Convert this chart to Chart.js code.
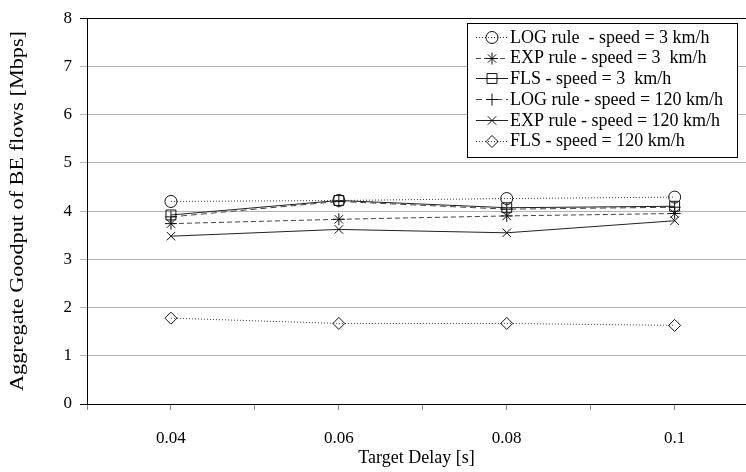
<!DOCTYPE html>
<html>
<head>
<meta charset="utf-8">
<script src="https://cdn.jsdelivr.net/npm/chart.js@4/dist/chart.umd.min.js"></script>
<style>
html,body{margin:0;padding:0;background:#fff;overflow:hidden;}
#wrap{position:relative;width:746px;height:472px;overflow:hidden;}
#c{display:block;width:746px;height:472px;}
</style>
</head>
<body>
<div id="wrap"><canvas id="c" width="746" height="472"></canvas></div>
<script>
const targetDelay = [0.04, 0.06, 0.08, 0.1];
const logRule3 = [4.2, 4.22, 4.26, 4.29];
const expRule3 = [3.74, 3.83, 3.9, 3.95];
const fls3 = [3.92, 4.22, 4.07, 4.1];
const logRule120 = [3.88, 4.2, 4.04, 4.08];
const expRule120 = [3.48, 3.62, 3.55, 3.8];
const fls120 = [1.78, 1.67, 1.67, 1.63];
const seriesLabels = [
  'LOG rule  - speed = 3 km/h',
  'EXP rule - speed = 3  km/h',
  'FLS - speed = 3  km/h',
  'LOG rule - speed = 120 km/h',
  'EXP rule - speed = 120 km/h',
  'FLS - speed = 120 km/h'
];
const xTickLabels = ['0.04', '0.06', '0.08', '0.1'];
const yTickLabels = ['0','1','2','3','4','5','6','7','8'];
const xTitle = 'Target Delay [s]';
const yTitle = 'Aggregate Goodput of BE flows [Mbps]';

const FONT = "'Liberation Serif', 'Times New Roman', serif";
const pts = arr => targetDelay.map((x, i) => ({x: x, y: arr[i]}));

const styles = [
  {dash: [1, 2], color: '#333', point: 'circle', r: 6},
  {dash: [5, 3], color: '#444', point: 'star', r: 6},
  {dash: [], color: '#222', point: 'rect', r: 7},
  {dash: [6, 4], color: '#444', point: 'cross', r: 6},
  {dash: [], color: '#222', point: 'crossRot', r: 6},
  {dash: [1, 2], color: '#333', point: 'rectRot', r: 6}
];
const values = [logRule3, expRule3, fls3, logRule120, expRule120, fls120];

const datasets = values.map((v, i) => ({
  label: seriesLabels[i],
  data: pts(v),
  borderColor: styles[i].color,
  borderWidth: 1,
  borderDash: styles[i].dash,
  pointStyle: styles[i].point,
  pointRadius: styles[i].r,
  pointBorderColor: '#111',
  pointBorderWidth: 1,
  pointBackgroundColor: 'rgba(0,0,0,0)',
  fill: false,
  tension: 0
}));

function drawMarker(ctx, style, r, x, y) {
  const opts = {pointStyle: style, radius: r, rotation: 0, borderWidth: 1};
  if (window.Chart && Chart.helpers && Chart.helpers.drawPoint) {
    ctx.fillStyle = 'rgba(0,0,0,0)';
    Chart.helpers.drawPoint(ctx, opts, x, y);
  }
}

const legendPlugin = {
  id: 'boxLegend',
  afterDraw(chart) {
    const ctx = chart.ctx;
    const x0 = 467, y0 = 23, w = 270, h = 134;
    ctx.save();
    ctx.fillStyle = '#fff';
    ctx.fillRect(x0, y0, w, h);
    ctx.strokeStyle = '#000';
    ctx.lineWidth = 1;
    ctx.setLineDash([]);
    ctx.strokeRect(x0 + 0.5, y0 + 0.5, w, h);
    chart.data.datasets.forEach((ds, i) => {
      const cy = 37 + i * 20.7;
      ctx.save();
      ctx.strokeStyle = ds.borderColor;
      ctx.lineWidth = 1;
      ctx.setLineDash(ds.borderDash || []);
      ctx.beginPath();
      ctx.moveTo(476, Math.round(cy) + 0.5);
      ctx.lineTo(508, Math.round(cy) + 0.5);
      ctx.stroke();
      ctx.setLineDash([]);
      ctx.strokeStyle = '#111';
      drawMarker(ctx, ds.pointStyle, ds.pointRadius, 492, Math.round(cy) + 0.5);
      ctx.restore();
      ctx.fillStyle = '#000';
      ctx.font = '18px ' + FONT;
      ctx.textBaseline = 'middle';
      ctx.textAlign = 'left';
      ctx.fillText(ds.label, 510, cy + 1);
    });
    ctx.restore();
  }
};

const yTitlePlugin = {
  id: 'yTitle',
  afterDraw(chart) {
    const ctx = chart.ctx;
    ctx.save();
    ctx.font = '18px ' + FONT;
    ctx.fillStyle = '#000';
    ctx.textAlign = 'center';
    ctx.textBaseline = 'middle';
    const w = ctx.measureText(yTitle).width;
    const target = 360;
    ctx.translate(18, 211);
    ctx.rotate(-Math.PI / 2);
    ctx.scale(target / w, 1);
    ctx.fillText(yTitle, 0, 0);
    ctx.restore();
  }
};

new Chart(document.getElementById('c'), {
  type: 'line',
  data: {datasets: datasets},
  plugins: [legendPlugin, yTitlePlugin],
  options: {
    responsive: false,
    maintainAspectRatio: false,
    animation: false,
    layout: {autoPadding: false, padding: {top: 15, right: 0, bottom: 0, left: 0}},
    plugins: {legend: {display: false}, tooltip: {enabled: false}},
    scales: {
      x: {
        type: 'linear',
        min: 0.03,
        max: 0.1085,
        afterFit: s => { s.height = 68; s.paddingRight = 0; s.paddingLeft = 0; },
        afterBuildTicks: s => {
          const t = [];
          for (let k = 3; k <= 10; k++) t.push({value: k / 100});
          s.ticks = t;
        },
        ticks: {
          autoSkip: false,
          maxRotation: 0,
          padding: 18,
          color: '#000',
          font: {family: FONT, size: 17},
          callback: v => {
            const k = Math.round(v * 100);
            const idx = [4, 6, 8, 10].indexOf(k);
            return idx >= 0 ? xTickLabels[idx] : '';
          }
        },
        grid: {drawOnChartArea: false, drawTicks: true, tickLength: 6, color: '#888'},
        border: {display: true, color: '#000', width: 1},
        title: {display: true, text: xTitle, color: '#000', font: {family: FONT, size: 18}, padding: {top: 0, bottom: 3}}
      },
      y: {
        min: 0,
        max: 8,
        afterFit: s => { s.width = 87; },
        ticks: {
          stepSize: 1,
          padding: 8,
          color: '#000',
          font: {family: FONT, size: 17},
          callback: (v) => yTickLabels[Math.round(v)]
        },
        grid: {
          drawTicks: true,
          tickLength: 7,
          color: ctx => (ctx.tick && (ctx.tick.value === 8 || ctx.tick.value === 0)) ? '#000' : '#b4b4b4',
          lineWidth: 1
        },
        border: {display: true, color: '#000', width: 1},
        title: {display: false}
      }
    }
  }
});
</script>
</body>
</html>
